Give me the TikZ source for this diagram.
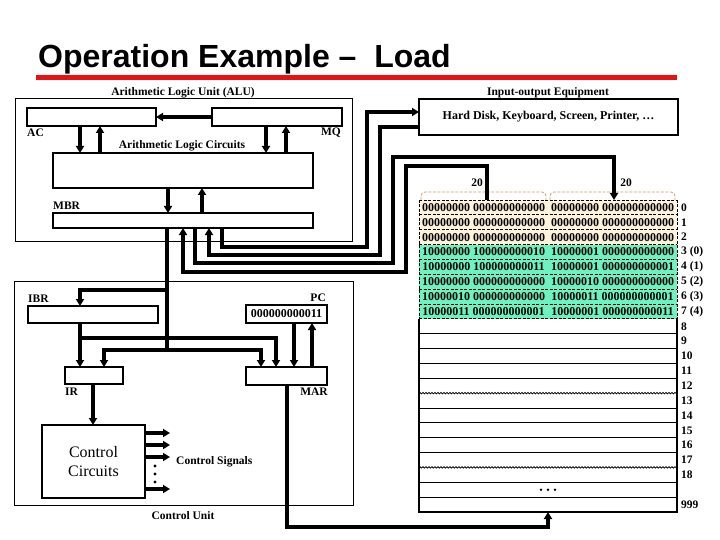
\documentclass[tikz,border=0pt]{standalone}
\usepackage{fontspec}
\setmainfont{Liberation Serif}
\newfontfamily\titlefont{Liberation Sans}
\usetikzlibrary{arrows.meta,decorations.pathmorphing}
\definecolor{cream}{RGB}{255,243,218}
\definecolor{aqua}{RGB}{110,242,192}
\definecolor{tanline}{RGB}{200,160,110}
\definecolor{titlered}{RGB}{232,18,18}
\begin{document}
\begin{tikzpicture}[x=1pt,y=-1pt,
  reg/.style={draw,line width=1.9pt,inner sep=0pt,outer sep=0pt},
  frame/.style={draw,line width=0.9pt,inner sep=0pt,outer sep=0pt},
  conn/.style={line width=3.1pt},
  arr/.style={-{Triangle[length=7pt,width=8pt]}},
  lbl/.style={font=\bfseries\fontsize{11.5}{13}\selectfont,inner sep=0pt},
  bits/.style={font=\bfseries\fontsize{12}{12}\selectfont,inner sep=0pt},
  thinrow/.style={line width=0.8pt},
  wavy/.style={line width=0.8pt,decorate,decoration={snake,amplitude=0.7pt,segment length=3pt}},
]
\useasboundingbox (0,0) rectangle (720,540);
\fill[white] (0,0) rectangle (720,540);

% title
\node[anchor=base west,inner sep=0pt,font=\titlefont\bfseries\fontsize{32}{36}\selectfont] (title) at (38,68) {Operation Example –\ \ Load};
\fill[titlered] (36,75) rectangle (677,80);

% ALU
\node[frame,minimum width=337pt,minimum height=143pt] (alu) at (183.5,169.5) {};
\node[lbl] (alulbl) at (183,93) {Arithmetic Logic Unit (ALU)};
\node[reg,minimum width=129pt,minimum height=18pt] (ac) at (91.5,117) {};
\node[reg,minimum width=130pt,minimum height=18pt] (mq) at (277,117) {};
\node[lbl,anchor=west] (aclbl) at (27,133) {AC};
\node[lbl,anchor=east] (mqlbl) at (341,133) {MQ};
\node[reg,minimum width=260pt,minimum height=35pt] (alc) at (183,170.5) {};
\node[lbl] (alclbl) at (182,146) {Arithmetic Logic Circuits};
\node[reg,minimum width=260pt,minimum height=15pt] (mbr) at (183,220.5) {};
\node[lbl,anchor=west] (mbrlbl) at (53,206) {MBR};

% I/O
\node[lbl] (iolbl) at (548,93) {Input-output Equipment};
\node[reg,minimum width=259pt,minimum height=36pt,font=\bfseries\fontsize{12}{13}\selectfont] (io) at (548.5,117) {Hard Disk, Keyboard, Screen, Printer, …};

% Memory
\def\rh{14.857}
\node[inner sep=0pt,outer sep=0pt,minimum width=258pt,minimum height=312pt] (mem) at (548,356) {};
\fill[cream] (419,200) rectangle (677,{200+3*\rh});
\fill[aqua] (419,{200+3*\rh}) rectangle (677,{200+8*\rh});
\foreach \i in {0,...,8} \draw[thinrow,dash pattern=on 3pt off 1.5pt] (419,{200+\i*\rh}) -- (677,{200+\i*\rh});
\draw[thinrow,dash pattern=on 3pt off 1.5pt] (419,200) -- (419,{200+8*\rh});
\draw[thinrow,dash pattern=on 3pt off 1.5pt] (677,200) -- (677,{200+8*\rh});
\foreach \i in {9,10,11,12,14,15,16,17,19,20} \draw[thinrow] (419,{200+\i*\rh}) -- (677,{200+\i*\rh});
\draw[wavy] (419,{200+13*\rh}) -- (677,{200+13*\rh});
\draw[wavy] (419,{200+18*\rh}) -- (677,{200+18*\rh});
\draw[line width=2.4pt] (419,{200+8*\rh}) -- (419,512) -- (677,512) -- (677,{200+8*\rh});
\draw[tanline,line width=0.8pt,dash pattern=on 3pt off 1.5pt,rounded corners=4pt] (421,200) -- (421,192) -- (546,192) -- (546,200);
\draw[tanline,line width=0.8pt,dash pattern=on 3pt off 1.5pt,rounded corners=4pt] (550,200) -- (550,192) -- (675,192) -- (675,200);
\node[lbl] (w1) at (477,183) {20};
\node[lbl] (w2) at (626,183) {20};

\foreach \i/\a/\b/\l in {
 0/00000000 000000000000/00000000 000000000000/0,
 1/00000000 000000000000/00000000 000000000000/1,
 2/00000000 000000000000/00000000 000000000000/2,
 3/10000000 100000000010/10000001 000000000000/3 (0),
 4/10000000 100000000011/10000001 000000000001/4 (1),
 5/10000000 000000000000/10000010 000000000000/5 (2),
 6/10000010 000000000000/10000011 000000000001/6 (3),
 7/10000011 000000000001/10000001 000000000011/7 (4)} {
  \node[bits] (ma\i) at (483.5,{200+(\i+0.5)*\rh}) {\a};
  \node[bits] (mb\i) at (612.5,{200+(\i+0.5)*\rh}) {\b};
  \node[lbl,anchor=west] (ml\i) at (681,{200+(\i+0.5)*\rh}) {\l};
}
\foreach \i in {8,...,18} \node[lbl,anchor=west] (ml\i) at (681,{200+(\i+0.5)*\rh}) {\i};
\node[lbl,anchor=west] (ml999) at (681,{200+20.5*\rh}) {999};
\foreach \xx in {541,548,555} \fill (\xx,{200+19.5*\rh}) circle (1.4pt);

% Control unit
\node[frame,minimum width=339pt,minimum height=224pt] (cu) at (183.5,393) {};
\node[lbl] (culbl) at (183,516) {Control Unit};
\node[reg,minimum width=130pt,minimum height=17pt] (ibr) at (93,314.5) {};
\node[lbl,anchor=west] (ibrlbl) at (28,299) {IBR};
\node[reg,minimum width=81pt,minimum height=18pt,font=\bfseries\fontsize{12}{12}\selectfont] (pc) at (286.5,314) {000000000011};
\node[lbl,anchor=east] (pclbl) at (326,298) {PC};
\node[reg,minimum width=58pt,minimum height=17pt] (ir) at (94,375.5) {};
\node[lbl,anchor=west] (irlbl) at (65,392) {IR};
\node[reg,minimum width=81pt,minimum height=18pt] (mar) at (286.5,376) {};
\node[lbl,anchor=east] (marlbl) at (328,392) {MAR};
\node[reg,minimum width=103pt,minimum height=73pt,align=center,font=\fontsize{16}{19}\selectfont] (cc) at (93.5,461.5) {Control\\Circuits};
\node[lbl,anchor=west] (cslbl) at (176,462) {Control Signals};
\foreach \yy in {466,474,482} \fill (155,\yy) circle (1.6pt);

% ALU connectors
\draw[conn,arr] (mq.west) -- (ac.east);
\draw[conn,arr] (ac.south -| 80,0) -- (alc.north -| 80,0);
\draw[conn,arr] (alc.north -| 100,0) -- (ac.south -| 100,0);
\draw[conn,arr] (mq.south -| 266,0) -- (alc.north -| 266,0);
\draw[conn,arr] (alc.north -| 286,0) -- (mq.south -| 286,0);
\draw[conn,arr] (alc.south -| 168,0) -- (mbr.north -| 168,0);
\draw[conn,arr] (mbr.north -| 202,0) -- (alc.south -| 202,0);

% MBR <-> IO / memory
\draw[conn,arr] (mbr.south -| 222,0) |- (367,247) |- (io.west |- 0,112);
\draw[conn,arr] (io.west |- 0,127) -| (380,255) -| (mbr.south -| 209,0);
\draw[conn,arr] (mbr.south -| 195,0) |- (393,263) |- (614,157) -- (mem.north -| 614,0);
\draw[conn,arr] (mem.north -| 487,0) |- (406,166) |- (183,272) -- (mbr.south -| 183,0);

% bus to control unit
\coordinate (bus) at (167,350);
\coordinate (jibr) at (167,290);
\coordinate (jir) at (80,338);
\draw[conn] (mbr.south -| 167,0) -- (bus);
\draw[conn,arr] (jibr) -| (ibr.north -| 80,0);
\draw[conn,arr] (ibr.south -| 80,0) -- (ir.north -| 80,0);
\draw[conn,arr] (jir) -| (mar.north -| 276,0);
\draw[conn,arr] (bus) -| (ir.north -| 104,0);
\draw[conn,arr] (bus) -| (mar.north -| 261,0);
\draw[conn,arr] (pc.south -| 294,0) -- (mar.north -| 294,0);
\draw[conn,arr] (mar.north -| 312,0) -- (pc.south -| 312,0);
\draw[conn,arr] (ir.south -| 93,0) -- (cc.north -| 93,0);
\draw[conn,arr] (mar.south -| 287,0) |- (548,527) -- (mem.south -| 548,0);
\foreach \yy in {433,445,457,489} \draw[conn,arr] (cc.east |- 0,\yy) -- ++(25,0);
\end{tikzpicture}
\end{document}
